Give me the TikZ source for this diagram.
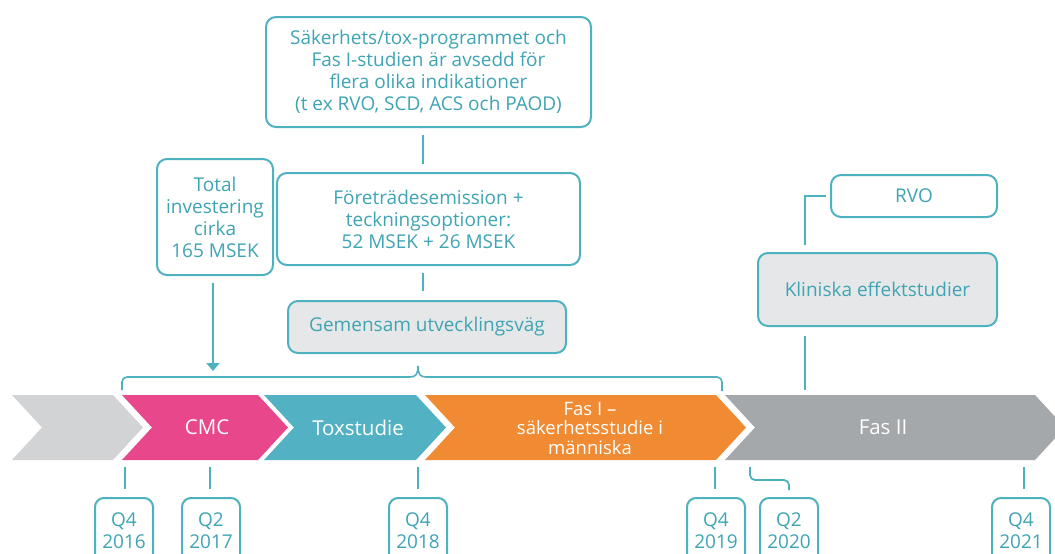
\documentclass[tikz,border=0pt]{standalone}
\usepackage{fontspec}
\setmainfont{Open Sans}
\usetikzlibrary{arrows.meta}
\definecolor{tealline}{HTML}{4DB1C0}
\definecolor{tealtext}{HTML}{3FA4B3}
\definecolor{cpink}{HTML}{E9478B}
\definecolor{cteal}{HTML}{52B1C2}
\definecolor{corange}{HTML}{F08B33}
\definecolor{cgraydark}{HTML}{A5A8AB}
\definecolor{cgraylight}{HTML}{D1D3D4}
\definecolor{boxfill}{HTML}{E6E7E8}
\begin{document}
\begin{tikzpicture}[x=1pt,y=-1pt,
  infobox/.style={draw=tealline,line width=2pt,rounded corners=10pt,fill=white,
    text=tealtext,align=center,inner sep=0pt,font=\fontsize{19}{22}\selectfont},
  graybox/.style={infobox,fill=boxfill},
  datebox/.style={draw=tealline,line width=2pt,rounded corners=9pt,fill=white,
    text=tealtext,align=center,inner sep=0pt,minimum width=58pt,minimum height=66pt,
    font=\fontsize{19}{22}\selectfont},
  conn/.style={draw=tealline,line width=1.8pt},
  chevlabel/.style={text=white,align=center,font=\fontsize{20.5}{20}\selectfont},
  chevlabelsmall/.style={text=white,align=center,font=\fontsize{18.5}{19.5}\selectfont}]
\useasboundingbox (0,0) rectangle (1055,554);
\clip (0,0) rectangle (1055,554);
% chevrons
\fill[cgraylight] (12,395) -- (113,395) -- (143,427.5) -- (113,460) -- (12,460) -- (42,427.5) -- cycle;
\fill[cpink] (122,395) -- (258,395) -- (288,427.5) -- (258,460) -- (122,460) -- (152,427.5) -- cycle;
\fill[cteal] (264,395) -- (416,395) -- (446,427.5) -- (416,460) -- (264,460) -- (294,427.5) -- cycle;
\fill[corange] (425,395) -- (716,395) -- (746,427.5) -- (716,460) -- (425,460) -- (455,427.5) -- cycle;
\fill[cgraydark] (725,395) -- (1035,395) -- (1065,427.5) -- (1035,460) -- (725,460) -- (755,427.5) -- cycle;
\node[chevlabel] (cmc) at (207,427.5) {CMC};
\node[chevlabel] (tox) at (358,427.5) {Toxstudie};
\node[chevlabelsmall] (fas1) at (590,428) {Fas I –\\säkerhetsstudie i\\människa};
\node[chevlabel] (fas2) at (883,427.5) {Fas II};
% upper boxes
\node[infobox,minimum width=325pt,minimum height=110pt] (top) at (428.5,72)
  {Säkerhets/tox-programmet och\\Fas I-studien är avsedd för\\flera olika indikationer\\(t ex RVO, SCD, ACS och PAOD)};
\node[infobox,minimum width=116pt,minimum height=116pt] (total) at (215,217)
  {Total\\investering\\cirka\\165 MSEK};
\node[infobox,minimum width=303pt,minimum height=92pt] (fore) at (428.5,219)
  {Företrädesemission +\\teckningsoptioner:\\52 MSEK + 26 MSEK};
\node[graybox,minimum width=278pt,minimum height=52pt] (gem) at (427,327)
  {Gemensam utvecklingsväg};
\node[infobox,minimum width=166pt,minimum height=42pt] (rvo) at (914,196) {RVO};
\node[graybox,minimum width=239pt,minimum height=73pt] (klin) at (877.5,289.5)
  {Kliniska effektstudier};
% connectors in upper part
\draw[conn,shorten <=7pt,shorten >=8pt] (top.south -| 423,0) -- (fore.north -| 423,0);
\draw[conn,shorten <=7pt,shorten >=9pt] (fore.south -| 423,0) -- (gem.north -| 423,0);
\coordinate (arrowtip) at (213,371);
\draw[conn,shorten <=7pt,-{Triangle[width=13pt,length=8pt]}] (total.south -| 213,0) -- (arrowtip);
\coordinate (rvobend) at (805,196);
\coordinate (klinin) at (805,245);
\draw[conn,shorten <=4pt] (rvo.west) -- (rvobend) -- (klinin);
\coordinate (fas2top) at (805,390);
\draw[conn,shorten <=9pt] (klin.south -| 805,0) -- (fas2top);
% brace
\draw[conn,line width=1.6pt] (122,390) -- (122,382) arc[start angle=180,end angle=270,radius=5] -- (410,377)
  .. controls (416,377) and (418,374) .. (418,366)
  .. controls (418,374) and (420,377) .. (426,377)
  -- (717,377) arc[start angle=-90,end angle=0,radius=5] -- (722,391);
% date boxes
\node[datebox] (d1) at (124,531) {Q4\\2016};
\node[datebox] (d2) at (211,531) {Q2\\2017};
\node[datebox] (d3) at (418,531) {Q4\\2018};
\node[datebox] (d4) at (716,531) {Q4\\2019};
\node[datebox] (d5) at (789,531) {Q2\\2020};
\node[datebox] (d6) at (1021,531) {Q4\\2021};
% ticks
\coordinate (t1) at (125,467);
\coordinate (t2) at (210,467);
\coordinate (t3) at (418,467);
\coordinate (t4) at (715,467);
\coordinate (t6) at (1024,467);
\draw[conn] (t1) -- (t1 |- 0,489);
\draw[conn] (t2) -- (t2 |- 0,489);
\draw[conn] (t3) -- (t3 |- 0,489);
\draw[conn] (t4) -- (t4 |- 0,489);
\draw[conn] (t6) -- (t6 |- 0,489);
\coordinate (t5) at (750,467);
\draw[conn,rounded corners=5pt] (t5) -- (750,480) -- (789,480) -- (789,490);
\end{tikzpicture}
\end{document}
